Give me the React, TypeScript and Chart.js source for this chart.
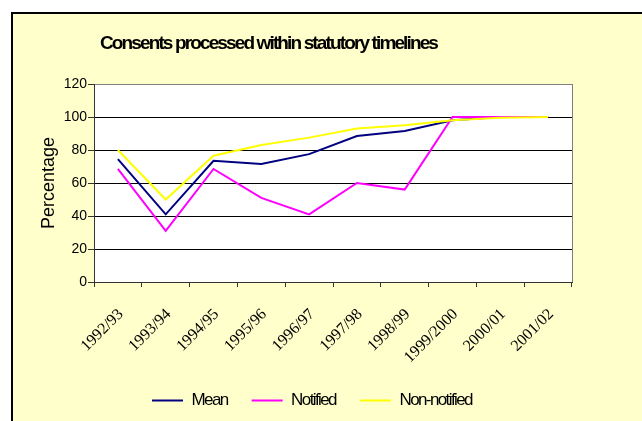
import React, { useEffect, useRef } from "react";
import { Chart, registerables } from "chart.js";

Chart.register(...registerables);

const categories = [
  "1992/93", "1993/94", "1994/95", "1995/96", "1996/97",
  "1997/98", "1998/99", "1999/2000", "2000/01", "2001/02",
];
const meanValues = [74.5, 41, 73.5, 71.5, 77.5, 88.5, 91.5, 98, 100, 100];
const notifiedValues = [68.5, 31, 68.5, 51, 41, 60, 56, 100, 100, 100];
const nonNotifiedValues = [80, 50, 76.5, 83, 87.5, 93, 95, 98, 99.5, 100];
const yTicks = [0, 20, 40, 60, 80, 100, 120];

const titleText = "Consents processed within statutory timelines";
const yTitle = "Percentage";

const SANS = "'Liberation Sans', Arial, sans-serif";
const SERIF = "'Liberation Serif', 'Times New Roman', serif";

function wrapSpacing(chart: any, box: any, spacing: string) {
  if (!box || box.__spacingWrapped) return;
  const orig = box.draw;
  box.draw = function (...args: any[]) {
    const c = chart.ctx;
    c.save();
    (c as any).letterSpacing = spacing;
    orig.apply(this, args);
    c.restore();
  };
  box.__spacingWrapped = true;
}

const layoutPlugin = {
  id: "excelLayout",
  afterLayout(chart: any) {
    if (chart.titleBlock) {
      chart.titleBlock.left = 0;
      chart.titleBlock.right = 537;
      wrapSpacing(chart, chart.titleBlock, "-1.87px");
    }
    if (chart.legend) {
      chart.legend.left = 128;
      chart.legend.right = 642;
      chart.legend.top = 368;
      chart.legend.bottom = 421;
      wrapSpacing(chart, chart.legend, "-1.6px");
    }
  },
  beforeDraw(chart: any) {
    const { ctx, chartArea } = chart;
    ctx.save();
    ctx.fillStyle = "#FFFFFF";
    ctx.fillRect(chartArea.left, chartArea.top, chartArea.right - chartArea.left, chartArea.bottom - chartArea.top);
    ctx.strokeStyle = "#808080";
    ctx.lineWidth = 1;
    ctx.beginPath();
    ctx.moveTo(chartArea.right + 0.5, chartArea.top);
    ctx.lineTo(chartArea.right + 0.5, chartArea.bottom);
    ctx.stroke();
    ctx.restore();
  },
};

export default function App() {
  const ref = useRef<HTMLCanvasElement | null>(null);

  useEffect(() => {
    if (!ref.current) return;
    const chart = new Chart(ref.current, {
      type: "line",
      data: {
        labels: categories,
        datasets: [
          {
            label: "Mean",
            data: meanValues,
            borderColor: "#000080",
            backgroundColor: "#000080",
            borderWidth: 2,
            pointRadius: 0,
            tension: 0,
            order: 3,
          },
          {
            label: "Notified",
            data: notifiedValues,
            borderColor: "#FF00FF",
            backgroundColor: "#FF00FF",
            borderWidth: 2,
            pointRadius: 0,
            tension: 0,
            order: 2,
          },
          {
            label: "Non-notified",
            data: nonNotifiedValues,
            borderColor: "#FFFF00",
            backgroundColor: "#FFFF00",
            borderWidth: 2,
            pointRadius: 0,
            tension: 0,
            order: 1,
          },
        ],
      },
      options: {
        responsive: false,
        animation: false,
        devicePixelRatio: 1,
        layout: { padding: { left: 0, right: 70, top: 0, bottom: 3 } },
        plugins: {
          tooltip: { enabled: false },
          title: {
            display: true,
            text: titleText,
            color: "#000000",
            font: { family: SANS, size: 19, weight: "bold" },
            padding: { top: 32.6, bottom: 28.6 },
          },
          legend: {
            position: "bottom",
            align: "start",
            labels: {
              color: "#000000",
              font: { family: SANS, size: 17 },
              boxWidth: 31,
              boxHeight: 2,
              padding: 24,
              sort: (a: any, b: any) => a.datasetIndex - b.datasetIndex,
              generateLabels: (chart: any) =>
                Chart.defaults.plugins.legend.labels
                  .generateLabels(chart)
                  .map((l: any) => ({ ...l, lineWidth: 0, fillStyle: l.strokeStyle })),
            },
          },
        },
        scales: {
          x: {
            type: "category",
            offset: true,
            grid: {
              display: true,
              drawOnChartArea: false,
              drawTicks: true,
              tickLength: 5,
              color: "#333333",
              offset: true,
            },
            border: { display: true, color: "#333333", width: 1 },
            ticks: {
              color: "#000000",
              font: { family: SERIF, size: 16 },
              minRotation: 45,
              maxRotation: 45,
              autoSkip: false,
              padding: 18,
              labelOffset: 3,
            },
            afterFit: (s: any) => {
              s.height = 85;
            },
          },
          y: {
            type: "linear",
            min: 0,
            max: 120,
            afterBuildTicks: (s: any) => {
              s.ticks = yTicks.map((v) => ({ value: v }));
            },
            grid: {
              color: (c: any) => (c.tick && c.tick.value === 120 ? "#808080" : "#000000"),
              tickColor: "#333333",
              tickLength: 6,
              lineWidth: 1,
            },
            border: { display: true, color: "#333333", width: 1 },
            ticks: {
              color: "#000000",
              font: { family: SANS, size: 14 },
              padding: 1,
            },
            title: {
              display: true,
              text: yTitle,
              color: "#000000",
              font: { family: SANS, size: 18 },
              padding: { top: 38, bottom: 0 },
            },
            afterFit: (s: any) => {
              s.width = 94;
            },
          },
        },
      },
      plugins: [layoutPlugin],
    });
    return () => chart.destroy();
  }, []);

  return (
    <div style={{ position: "absolute", left: 0, top: 0, width: 642, height: 421, overflow: "hidden", background: "#FFFFFF" }}>
      <div
        style={{
          position: "absolute",
          left: 11,
          top: 12,
          width: 700,
          height: 500,
          background: "#FFFFCC",
          borderLeft: "2px solid #000000",
          borderTop: "2px solid #000000",
        }}
      />
      <canvas
        ref={ref}
        width={642}
        height={421}
        style={{ position: "absolute", left: 0, top: 0, width: 642, height: 421, display: "block" }}
      />
    </div>
  );
}
